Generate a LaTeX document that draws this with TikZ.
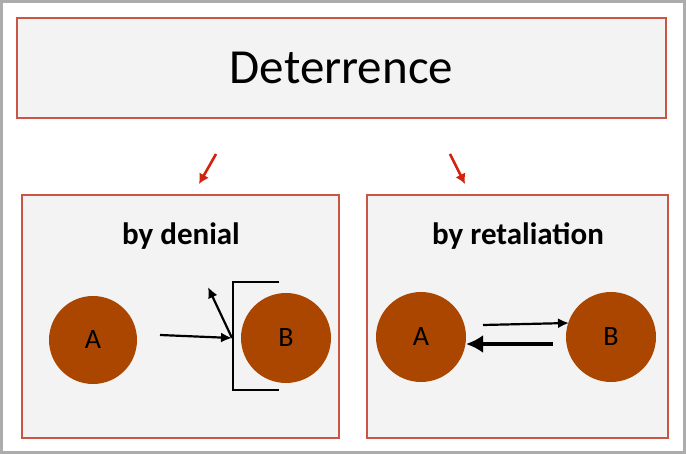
\documentclass[tikz,border=0pt]{standalone}
\usepackage{fontspec}
\setmainfont{Carlito}
\usetikzlibrary{arrows.meta,positioning}

\definecolor{boxedge}{RGB}{200,85,70}
\definecolor{boxfill}{RGB}{243,243,243}
\definecolor{actorbrown}{RGB}{170,70,0}
\definecolor{pointer}{RGB}{210,35,15}

\tikzset{
  panel/.style={draw=boxedge,fill=boxfill,line width=1.2pt},
  party/.style={circle,fill=actorbrown,minimum size=90pt,inner sep=0pt,
    font=\fontsize{28}{30}\selectfont},
  push/.style={-{Latex[length=11pt,width=10pt]},line width=2.2pt},
  hint/.style={-{Latex[length=10pt,width=11pt]},draw=pointer,line width=2.6pt},
}

\begin{document}
\begin{tikzpicture}[x=1pt,y=-1pt]
\useasboundingbox (0,0) rectangle (686,454);
\draw[gray!65,line width=3pt] (1.5,1.5) rectangle (684.5,452.5);

% heading
\node[panel,minimum width=649pt,minimum height=100pt,
  font=\fontsize{49}{52}\selectfont] (top) at (341.5,68) {Deterrence};

% the two panels
\node[panel,minimum width=317pt,minimum height=243pt] (left) at (180.5,316.5) {};
\node[panel,minimum width=301pt,minimum height=243pt] (right) at (517.5,316.5) {};
\node[font=\bfseries\fontsize{31}{34}\selectfont] (denial) at (181,236) {by denial};
\node[font=\bfseries\fontsize{31}{34}\selectfont] (retal) at (518,236) {by retaliation};

% red pointers
\coordinate (p1) at (216,154);
\coordinate (q1) at (199,184);
\coordinate (p2) at (450,154);
\coordinate (q2) at (465,184);
\draw[hint] (p1) -- (q1);
\draw[hint] (p2) -- (q2);

% denial
\node[party,minimum size=88pt] (a1) at (93,340) {A};
\node[party] (b1) at (286,338) {B};
\coordinate (ut) at (279,282);
\coordinate (ub) at (279,390);
\draw[line width=2.4pt] (ut) -- (233,282) -- (233,390) -- (ub);
\coordinate (fire) at (160,335);
\coordinate (hit) at (232,338);
\coordinate (bounce) at (208,287);
\draw[push] (fire) -- (hit);
\draw[push] (hit) -- (bounce);

% retaliation
\node[party] (a2) at (421,337) {A};
\node[party] (b2) at (611,337) {B};
\coordinate (s2) at (483,325);
\coordinate (t2) at (569,323);
\coordinate (s3) at (553,344);
\coordinate (t3) at (466,344);
\draw[push] (s2) -- (t2);
\draw[-{Latex[length=17pt,width=18pt]},line width=4.6pt] (s3) -- (t3);
\end{tikzpicture}
\end{document}
